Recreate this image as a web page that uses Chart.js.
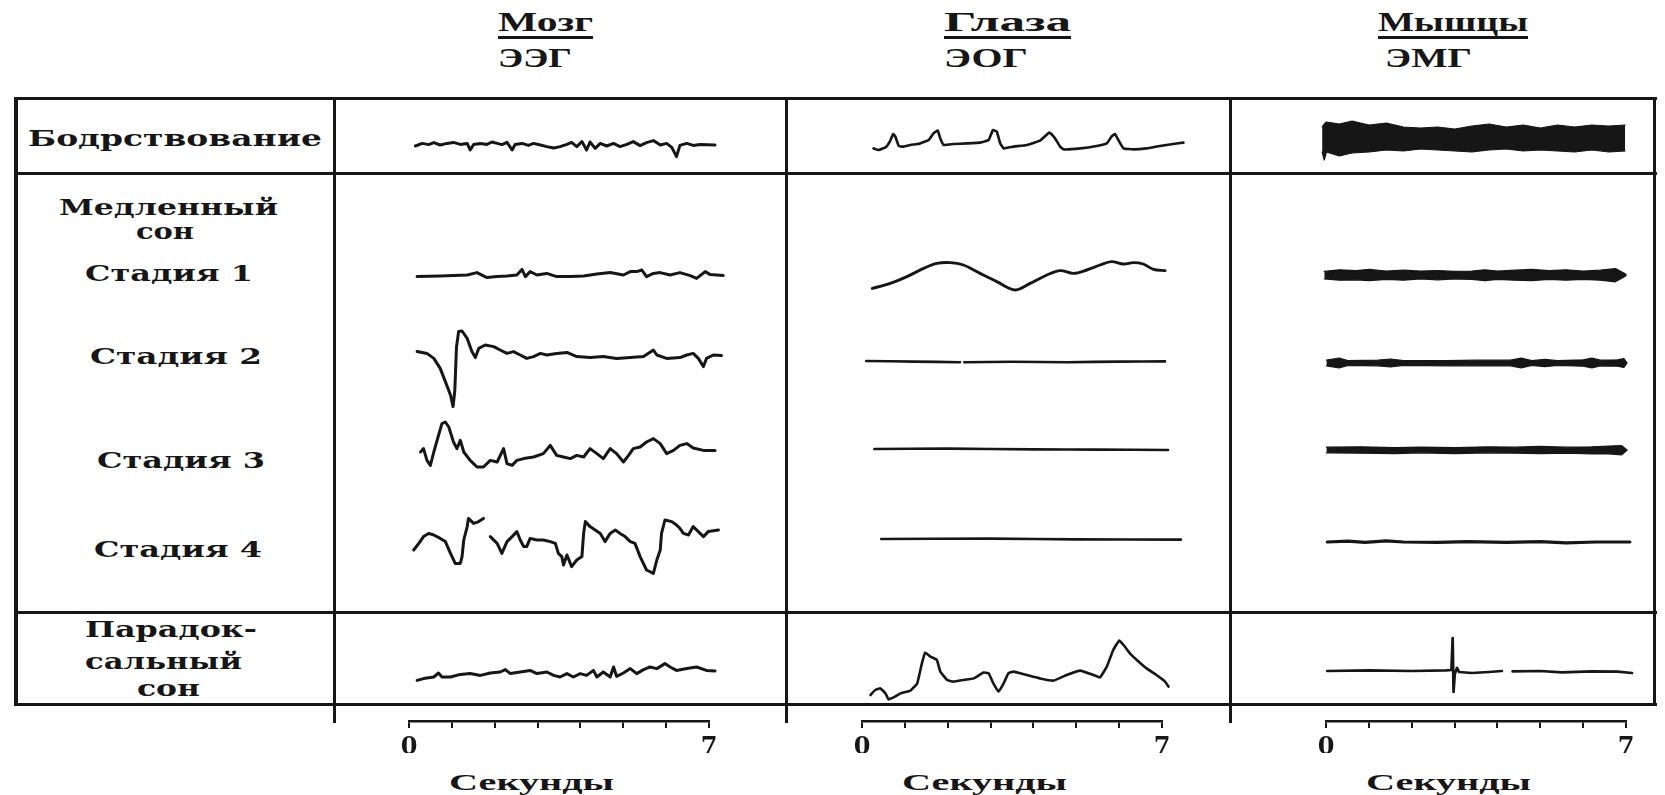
<!DOCTYPE html>
<html lang="ru">
<head>
<meta charset="utf-8">
<title>ЭЭГ, ЭОГ и ЭМГ в разных стадиях сна</title>
<script src="https://cdn.jsdelivr.net/npm/chart.js@4.4.1/dist/chart.umd.min.js"></script>
<style>
  html, body { margin: 0; padding: 0; background: #fff; }
  #fig { position: relative; width: 1665px; height: 795px; overflow: hidden; background: #fff; }
  .rule { position: absolute; background: #161616; }
  .txt { position: absolute; white-space: nowrap; color: #161616; transform-origin: 0 50%; }
  .cell { position: absolute; }
</style>
</head>
<body>
<div id="fig"></div>
<script>
// --- Data: every trace is a list of [seconds, amplitude] (up = positive) ---
const seconds = [0, 1, 2, 3, 4, 5, 6, 7];
const tickLabels = ['0', '', '', '', '', '', '', '7'];
const organs = ['Мозг', 'Глаза', 'Мышцы'];
const signals = ['ЭЭГ', 'ЭОГ', 'ЭМГ'];
const axisTitle = 'Секунды';
const rowLabels = ['Бодрствование', 'Медленный', 'сон', 'Стадия 1', 'Стадия 2', 'Стадия 3',
  'Стадия 4', 'Парадок-', 'сальный', 'сон'];

// brain (EEG)
const eegWake = [[0.14,-0.5],[0.30,0.8],[0.45,0.2],[0.57,1.2],[0.72,0],[0.88,0.8],[1.03,1.3],[1.19,0.3],
  [1.35,0.8],[1.42,-2.5],[1.50,0.2],[1.66,0.8],[1.81,0.3],[1.93,1.5],[2.05,0.8],[2.16,0.2],[2.28,1.3],
  [2.40,-2.5],[2.47,0.2],[2.63,0.8],[2.78,-0.2],[2.90,0.8],[3.06,0],[3.21,-0.8],[3.37,-1.5],[3.52,-0.8],
  [3.68,0.3],[3.79,1.3],[3.91,-0.8],[4.03,1.7],[4.14,-2.5],[4.22,1.5],[4.34,-1.7],[4.46,0.8],[4.61,-0.5],
  [4.77,0.8],[4.92,-0.8],[5.08,0.3],[5.23,1.7],[5.39,-0.3],[5.54,1.2],[5.70,2.2],[5.86,0],[6.01,0.8],
  [6.13,-1.2],[6.24,-5.8],[6.32,-0.2],[6.48,0.8],[6.63,-0.2],[6.79,0.3],[7.14,0]];
const eegStage1 = [[0.18,-0.8],[0.72,-0.5],[1.35,0],[1.58,1.2],[1.81,-1.3],[2.05,-0.8],[2.28,-0.5],
  [2.51,0],[2.63,2.8],[2.71,-0.8],[2.82,1.7],[2.98,0],[3.21,0.8],[3.44,-0.8],[3.76,-0.8],[4.07,-0.5],
  [4.38,0.5],[4.69,1.2],[5.00,0],[5.16,1.7],[5.31,1.7],[5.43,2.5],[5.54,-0.8],[5.70,0.8],[5.86,1.2],
  [6.09,0],[6.32,1.2],[6.56,-0.3],[6.71,-1.7],[6.91,1.7],[7.02,0.3],[7.33,-0.3]];
const eegStage2 = [[0.18,1.7],[0.41,0.8],[0.57,-1.7],[0.72,-6.7],[0.84,-13.3],[0.96,-20],[1.02,-25.8],
  [1.06,-18],[1.10,4],[1.15,11.7],[1.23,12],[1.35,8.3],[1.46,1.7],[1.54,-1.3],[1.62,3.3],[1.77,5],
  [1.97,4.2],[2.12,2.5],[2.28,0.8],[2.43,1.7],[2.59,0],[2.74,-1.7],[2.90,-0.8],[3.06,0.8],[3.21,0],
  [3.44,0.8],[3.68,1.3],[3.91,-0.8],[4.22,-1.3],[4.53,-0.8],[4.84,-1.7],[5.16,-1.3],[5.47,-0.8],
  [5.70,2.5],[5.78,0],[6.01,-1.7],[6.32,-1.3],[6.48,0],[6.63,0.8],[6.75,-1.7],[6.87,-5.8],[6.94,-1.7],
  [7.10,0],[7.29,-0.3]];
const eegStage3 = [[0.26,0],[0.33,1.7],[0.41,-4.2],[0.49,-6.7],[0.57,0],[0.68,8.3],[0.76,14.2],[0.84,15],
  [0.92,12.5],[1.03,5],[1.11,1.7],[1.19,5.8],[1.27,0],[1.42,-4.2],[1.58,-7.5],[1.73,-7.5],[1.89,-4.2],
  [2.05,-5],[2.20,1.7],[2.28,-5.8],[2.40,-6.7],[2.51,-4.2],[2.67,-3.3],[2.90,-2.5],[3.13,-0.8],[3.29,3.3],
  [3.44,-1.7],[3.60,-2.5],[3.76,-3.3],[3.91,-1.7],[4.07,-2.5],[4.22,1.7],[4.38,-0.8],[4.53,-3.3],
  [4.69,1.7],[4.84,-0.8],[5.00,-5],[5.12,-1.7],[5.23,1.7],[5.39,2.5],[5.54,5],[5.70,6.7],[5.86,4.2],
  [6.01,-0.8],[6.17,0.8],[6.32,3.3],[6.48,4.2],[6.63,2],[6.87,0.8],[7.14,0.8]];
const eegStage4 = [[0.10,-5],[0.22,-1.7],[0.33,1.7],[0.45,3.3],[0.57,2.5],[0.72,0.8],[0.84,-0.8],
  [0.96,-6.7],[1.07,-11.7],[1.19,-11.7],[1.23,-8.3],[1.27,0],[1.35,6.7],[1.38,10.8],[1.50,8.3],
  [1.62,9.2],[1.73,10.8],[1.80,null],[1.89,1.7],[2.05,-1.7],[2.16,-6.7],[2.28,-0.8],[2.40,1.7],[2.51,4.2],
  [2.59,0],[2.67,-3.3],[2.74,-3.3],[2.82,0.8],[2.98,0],[3.13,0],[3.29,-0.8],[3.41,-1.7],[3.48,-6.7],
  [3.56,-8.3],[3.60,-12.5],[3.68,-7.5],[3.79,-13.3],[3.91,-10],[4.03,-8.3],[4.07,3.3],[4.11,9.2],
  [4.22,6.7],[4.34,5],[4.46,3.3],[4.57,-0.8],[4.69,3.3],[4.81,5],[4.92,3.3],[5.04,1.7],[5.16,-0.8],
  [5.27,-1.7],[5.39,-8.3],[5.54,-15],[5.70,-16.7],[5.78,-10],[5.86,-5],[5.89,3.3],[5.97,10],[6.13,9.2],
  [6.24,7.5],[6.32,5.8],[6.40,3.3],[6.52,2.5],[6.63,6.7],[6.75,4.2],[6.87,1.7],[6.98,4.2],[7.22,5]];
const eegRem = [[0.18,-4.2],[0.33,-3.3],[0.57,-2.5],[0.68,-0.5],[0.76,-2.5],[0.96,-2.5],[1.19,-1.2],
  [1.42,-0.8],[1.66,-1.7],[1.89,-0.5],[2.12,0],[2.24,1.2],[2.36,-0.8],[2.59,0],[2.82,0.8],[2.98,-0.8],
  [3.21,0],[3.37,-1.7],[3.52,-2.5],[3.68,-0.8],[3.83,-2.5],[3.99,-0.8],[4.14,-1.7],[4.30,0.8],[4.38,-2.5],
  [4.53,0],[4.69,-2.5],[4.77,2.5],[4.84,-2.2],[5.00,-0.5],[5.16,1.7],[5.31,-0.8],[5.47,1.2],[5.62,2.5],
  [5.78,1.7],[5.97,4.2],[6.09,2.5],[6.24,0.8],[6.48,1.7],[6.71,2.5],[6.94,0.8],[7.14,0.5]];

// eyes (EOG)
const eogWake = [[0.26,-1.7],[0.38,-2.5],[0.54,-1.2],[0.64,1.7],[0.72,5.5],[0.77,4.2],[0.85,-0.5],
  [0.96,-0.8],[1.12,0],[1.35,0.8],[1.55,2.5],[1.66,5.8],[1.76,7.2],[1.82,3.3],[1.90,0],[2.13,0.5],
  [2.44,0.8],[2.75,1.2],[2.95,2.5],[3.05,7.5],[3.14,6.7],[3.22,0.8],[3.30,-1.7],[3.53,-0.8],[3.84,0],
  [4.15,2.2],[4.37,6.2],[4.50,3.3],[4.62,-0.8],[4.70,-2.2],[5.09,-1.7],[5.47,-0.5],[5.71,0.8],[5.82,4.2],
  [5.90,5.5],[5.98,2.5],[6.10,-1.7],[6.33,-2.2],[6.64,-1.7],[6.95,-0.5],[7.26,0.5],[7.50,1.2]];
const eogStage1 = [[0.23,-6.7],[0.65,-4.2],[1.04,-0.8],[1.43,3.3],[1.74,5.8],[2.05,6.2],[2.36,5],
  [2.75,0.8],[3.14,-3.3],[3.57,-7.5],[3.92,-4.2],[4.31,0],[4.62,2.2],[4.93,0.8],[5.24,2.5],[5.55,5],
  [5.82,6.7],[6.10,5.5],[6.33,6.2],[6.56,5.5],[6.80,2.8],[7.07,2.2]];
const eogStage2 = [[0.09,-3.0],[1.2,-3.3],[2.28,-3.6],[2.33,null],[2.38,-3.6],[3.5,-3.4],[4.8,-3.6],
  [6.0,-3.3],[7.07,-3.2]];
const eogStage3 = [[0.28,1.5],[2.0,1.7],[4.0,1.3],[5.5,1.2],[7.14,1.0]];
const eogStage4 = [[0.44,0.5],[3.0,0.7],[5.0,0.3],[7.44,0.2]];
const eogRem = [[0.19,-11.5],[0.30,-9],[0.42,-8.2],[0.54,-10.7],[0.61,-13.7],[0.73,-12.7],[0.89,-10.7],
  [1.12,-9.3],[1.28,-5.7],[1.39,4.3],[1.47,9.7],[1.59,7.7],[1.74,6],[1.82,0.2],[1.98,-4],[2.13,-4.8],
  [2.36,-4],[2.60,-3.2],[2.83,-0.3],[2.95,-0.7],[3.06,-5.7],[3.18,-9.8],[3.30,-5.7],[3.41,-0.7],
  [3.53,0.2],[3.84,-1.5],[4.15,-3.2],[4.46,-4.3],[4.77,-1.5],[5.09,0.7],[5.40,-1.5],[5.55,-2.7],
  [5.71,2.7],[5.86,11],[6.00,15.7],[6.10,13.5],[6.25,9.3],[6.41,6],[6.64,1.8],[6.87,-1.5],[7.07,-4.8],
  [7.15,-7.3]];

// muscles (EMG): dense traces kept as upper / lower envelope
const emgWakeTop = [[-0.1,9],[-0.05,10.5],[0,11.5],[0.3,10.5],[0.6,12],[1.0,10],[1.4,11],[1.8,9],
  [2.2,8.5],[2.6,9],[3.0,8],[3.4,9.5],[3.8,10.5],[4.2,9],[4.6,10],[5.0,8.5],[5.4,10],[5.8,9],[6.2,10],
  [6.6,9.5],[6.98,10]];
const emgWakeBottom = [[-0.1,-3.5],[-0.05,-7.5],[0,-3.5],[0.3,-5.5],[0.6,-4],[1.0,-3.5],[1.4,-2.5],
  [1.8,-3],[2.2,-2],[2.6,-2.5],[3.0,-3],[3.4,-3.5],[3.8,-2.5],[4.2,-2],[4.6,-3],[5.0,-2.5],[5.4,-3],
  [5.8,-3.5],[6.2,-2.5],[6.6,-3.5],[6.98,-3]];
const emgStage1Top = [[-0.05,1.8],[0.3,2.6],[0.7,2.2],[1.0,2.8],[1.4,2.0],[1.8,2.4],[2.2,2.0],[2.6,2.2],
  [3.0,1.8],[3.4,2.0],[3.7,2.6],[4.0,2.0],[4.4,2.4],[4.8,2.8],[5.2,2.2],[5.6,2.6],[6.0,2.0],[6.4,2.4],
  [6.75,3.2],[6.95,1.0],[7.0,0.2]];
const emgStage1Bottom = [[-0.05,-2.0],[0.3,-2.6],[0.7,-2.4],[1.0,-2.8],[1.4,-2.2],[1.8,-2.6],[2.2,-2.0],
  [2.6,-2.4],[3.0,-2.0],[3.4,-2.2],[3.7,-2.8],[4.0,-2.2],[4.4,-2.6],[4.8,-2.8],[5.2,-2.2],[5.6,-2.6],
  [6.0,-2.2],[6.4,-2.6],[6.75,-3.4],[6.95,-1.0],[7.0,-0.2]];
const emgStage2Top = [[0,-2.6],[0.3,-1.5],[0.5,-2.8],[1.2,-2.6],[1.5,-2.0],[1.8,-2.8],[2.8,-2.8],
  [3.5,-2.6],[4.3,-2.6],[4.55,-1.6],[4.8,-2.8],[5.1,-2.2],[5.4,-2.8],[6.0,-2.4],[6.2,-1.6],[6.4,-2.6],
  [6.8,-2.4],[6.95,-1.8],[7.02,-3.9]];
const emgStage2Bottom = [[0,-5.4],[0.3,-6.4],[0.5,-5.2],[1.2,-5.4],[1.5,-6.0],[1.8,-5.2],[2.8,-5.4],
  [3.5,-5.4],[4.3,-5.4],[4.55,-6.4],[4.8,-5.2],[5.1,-5.8],[5.4,-5.2],[6.0,-5.6],[6.2,-6.4],[6.4,-5.4],
  [6.8,-5.6],[6.95,-6.2],[7.02,-4.1]];
const emgStage3Top = [[0,2.4],[0.8,2.6],[1.6,2.2],[2.2,2.4],[3.0,2.2],[3.8,2.6],[4.4,2.4],[5.0,2.8],
  [5.6,2.4],[6.2,2.6],[6.6,3.0],[6.9,3.2],[7.02,1.0]];
const emgStage3Bottom = [[0,-0.4],[0.8,-0.6],[1.6,-0.8],[2.2,-0.4],[3.0,-0.8],[3.8,-0.4],[4.4,-0.6],
  [5.0,-0.8],[5.6,-0.6],[6.2,-1.0],[6.6,-1.0],[6.9,-1.4],[7.02,0.9]];
const emgStage4 = [[0.02,-1],[0.5,-0.6],[0.9,-1.2],[1.4,-0.4],[1.8,-1.0],[2.6,-1.2],[3.3,-0.8],
  [4.2,-1.2],[5.0,-0.8],[5.6,-1.4],[6.3,-1.0],[7.09,-1.0]];
const emgRem = [[0.02,0.5],[1.0,0.8],[2.0,0.5],[2.8,0.8],[2.92,1.0],[2.95,17],[2.97,-10],[3.0,-1],
  [3.05,2],[3.1,0],[3.4,-0.5],[3.8,0],[4.1,0.5],[4.2,null],[4.35,0.3],[5.0,0.5],[5.5,-0.2],[6.2,0.3],
  [6.8,0.2],[7.14,-0.5]];

// --- Layout ---
const ink = '#161616';
const fig = document.getElementById('fig');
const pps = 300 / 7;               // pixels per second on each time axis
const colX0 = [409, 862, 1326];    // where t = 0 sits in each column
const rowY = [145, 275, 355, 452, 540, 672];
const tMin = -0.5, tMax = 7.7, ampMax = 35, cellH = 140;

function rule(x, y, w, h) {
  const d = document.createElement('div');
  d.className = 'rule';
  Object.assign(d.style, { left: x + 'px', top: y + 'px', width: w + 'px', height: h + 'px' });
  fig.appendChild(d);
}

// text squeezed/stretched to the width it has in the scan
function put(text, x, base, w, size, family, centered) {
  const d = document.createElement('div');
  d.className = 'txt';
  d.textContent = text;
  d.style.font = `bold ${size}px ${family}`;
  d.style.lineHeight = size + 'px';
  fig.appendChild(d);
  const nat = d.getBoundingClientRect().width;
  d.style.left = (centered ? x - w / 2 : x) + 'px';
  d.style.top = (base - 0.84 * size) + 'px';
  d.style.transform = `scaleX(${w / nat})`;
}

// frame of the table
rule(14, 97, 1643, 3);
rule(14, 703, 1643, 3);
rule(14, 97, 4, 609);
rule(1653, 97, 3, 609);
rule(14, 172, 1643, 3);
rule(14, 611, 1643, 3);
[333, 785, 1229].forEach(x => rule(x, 97, 3, 626));

// headers
const serifT = '"Liberation Serif", serif';
const serifD = '"DejaVu Serif", serif';
const headLeft = [498, 944, 1378];
const headW = [95, 127, 150];
const sigW = [74, 84, 87];
organs.forEach((o, i) => {
  put(o, headLeft[i], 32, headW[i], 28, serifT);
  rule(headLeft[i], 36, headW[i], 3);
  put(signals[i], headLeft[i] + (i === 2 ? 7 : 0), 68, sigW[i], 28, serifT);
});

// row labels
const labelPos = [[175,145,294],[168,214,219],[165,238,58],[169,280,168],[176,363,172],[181,467,168],
  [178,556,168],[171,636,172],[163,668,157],[168,695,63]];
rowLabels.forEach((t, i) => put(t, labelPos[i][0], labelPos[i][1], labelPos[i][2], 22, serifD, true));

// --- Charts ---
const pts = arr => arr.map(([x, y]) => ({ x, y }));

function makeCanvas(left, top, w, h) {
  const c = document.createElement('canvas');
  c.width = w; c.height = h;
  c.className = 'cell';
  c.style.left = left + 'px';
  c.style.top = top + 'px';
  fig.appendChild(c);
  return c;
}

function trace(col, row, datasets) {
  const w = Math.round((tMax - tMin) * pps);
  const c = makeCanvas(colX0[col] + tMin * pps, rowY[row] - cellH / 2, w, cellH);
  new Chart(c, {
    type: 'line',
    data: { datasets },
    options: {
      responsive: false, animation: false, events: [],
      layout: { padding: 0 },
      spanGaps: false,
      plugins: { legend: { display: false }, tooltip: { enabled: false } },
      elements: {
        point: { radius: 0 },
        line: { borderColor: ink, borderWidth: 3, tension: 0, borderJoinStyle: 'round', borderCapStyle: 'round' }
      },
      scales: {
        x: { type: 'linear', min: tMin, max: tMax, display: false },
        y: { min: -ampMax, max: ampMax, display: false }
      }
    }
  });
}

const line = (arr, width, tension) => ({ data: pts(arr), borderWidth: width || 3, tension: tension || 0, fill: false });
const band = (top, bottom) => [
  { data: pts(top), fill: '+1', backgroundColor: ink, borderWidth: 1.2 },
  { data: pts(bottom), fill: false, borderWidth: 1.2 }
];

const eegRows = [eegWake, eegStage1, eegStage2, eegStage3, eegStage4, eegRem];
eegRows.forEach((d, r) => trace(0, r, [line(d, 3)]));

const eogRows = [eogWake, eogStage1, eogStage2, eogStage3, eogStage4, eogRem];
eogRows.forEach((d, r) => trace(1, r, [line(d, r === 1 ? 2.9 : 2.6, r === 1 ? 0.35 : 0.1)]));

trace(2, 0, band(emgWakeTop, emgWakeBottom));
trace(2, 1, band(emgStage1Top, emgStage1Bottom));
trace(2, 2, band(emgStage2Top, emgStage2Bottom));
trace(2, 3, band(emgStage3Top, emgStage3Bottom));
trace(2, 4, [line(emgStage4, 3.2)]);
trace(2, 5, [line(emgRem, 2.7)]);

// time axes under the table
function timeAxis(col) {
  const padL = 30, padR = 30, h = 64;
  const c = makeCanvas(colX0[col] - padL, 689, 300 + padL + padR, h);
  new Chart(c, {
    type: 'scatter',
    data: { datasets: [] },
    options: {
      responsive: false, animation: false, events: [],
      layout: { padding: { left: padL, right: padR, top: 0, bottom: 0 } },
      plugins: { legend: { display: false }, tooltip: { enabled: false } },
      scales: {
        x: {
          type: 'linear', min: 0, max: 7, position: 'bottom',
          afterBuildTicks: s => { s.ticks = seconds.map(v => ({ value: v })); },
          ticks: {
            autoSkip: false, maxRotation: 0, padding: 5, color: ink,
            font: { family: 'DejaVu Serif', size: 24, weight: 'bold' },
            callback: (v, i) => tickLabels[i]
          },
          grid: { drawOnChartArea: false, drawTicks: true, tickLength: 7, color: ink, lineWidth: 2 },
          border: { display: true, color: ink, width: 2.5 }
        },
        y: { display: false, min: 0, max: 1 }
      }
    }
  });
  put(axisTitle, colX0[col] + 150 - 28, 790, 165, 24, serifT, true);
}
[0, 1, 2].forEach(timeAxis);
</script>
</body>
</html>
